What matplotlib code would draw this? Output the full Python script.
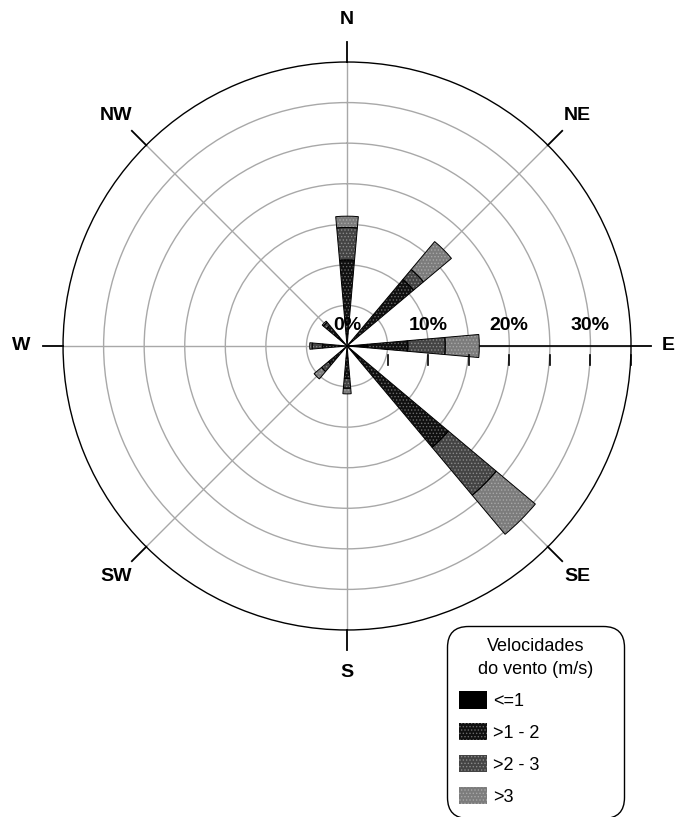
import numpy as np
import matplotlib
matplotlib.use("Agg")
import matplotlib.pyplot as plt

plt.rcParams['font.family'] = ['Liberation Sans', 'DejaVu Sans']
plt.rcParams['hatch.linewidth'] = 0.6

# wind directions and frequency (%) of each speed class
directions = ["N", "NE", "E", "SE", "S", "SW", "W", "NW"]
angles_deg = [0, 45, 90, 135, 180, 225, 270, 315]
speed_classes = ["<=1", ">1 - 2", ">2 - 3", ">3"]
freq_le1 = [1.5, 1.0, 2.5, 2.0, 1.5, 1.0, 1.0, 1.5]
freq_1_2 = [9.1, 9.7, 5.0, 14.3, 2.5, 2.0, 2.0, 1.8]
freq_2_3 = [4.0, 1.6, 4.6, 7.7, 1.2, 1.1, 1.3, 0.5]
freq_gt3 = [1.4, 4.5, 4.2, 6.3, 0.7, 1.2, 0.3, 0.2]
ring_labels = {0: "0%", 10: "10%", 20: "20%", 30: "30%"}

rmax = 35
theta = np.radians(angles_deg)
width = np.radians(10)

fig = plt.figure(figsize=(6.77, 8.17), dpi=100)
ax = fig.add_axes([0.0931, 0.2289, 0.839, 0.6952], projection='polar')
ax.set_theta_zero_location('N')
ax.set_theta_direction(-1)
ax.set_rlim(0, rmax)
ax.set_rgrids(np.arange(5, rmax, 5), labels=[])
ax.set_thetagrids(angles_deg, labels=[])
ax.grid(color='#a8a8a8', lw=1.0)
ax.spines['polar'].set_color('black')
ax.spines['polar'].set_linewidth(1.0)
ax.set_axisbelow(True)

# face colour, hatch colour, hatch pattern per speed class
styles = [("black", "black", None),
          ("#101010", "#6a6a6a", "....."),
          ("#444444", "#8a8a8a", "....."),
          ("#7c7c7c", "#a8a8a8", ".....")]

series = [freq_le1, freq_1_2, freq_2_3, freq_gt3]
bottom = np.zeros(len(directions))
handles = []
for vals, (fc, hc, hatch), lab in zip(series, styles, speed_classes):
    vals = np.array(vals)
    b = ax.bar(theta, vals, width=width, bottom=bottom, color=fc,
               edgecolor=hc, linewidth=0, hatch=hatch, label=lab, zorder=3)
    ax.bar(theta, vals, width=width, bottom=bottom, fill=False,
           edgecolor='black', linewidth=0.7, zorder=4)
    handles.append(b)
    bottom += vals

# black scale axis towards E with ticks under it
ax.plot([np.pi / 2, np.pi / 2], [0, rmax], color='black', lw=1.2, zorder=2)
for r in np.arange(5, rmax + 1, 5):
    t1 = np.pi / 2 + np.arctan2(1.1, r)
    t2 = np.pi / 2 + np.arctan2(2.4, r)
    ax.plot([t1, t2], [np.hypot(r, 1.1), np.hypot(r, 2.4)], color='black',
            lw=1.2, clip_on=False, zorder=5)

for r, txt in ring_labels.items():
    ax.annotate(txt, xy=(np.pi / 2, r), xytext=(0, 15), textcoords='offset points',
                ha='center', va='center', fontsize=14, fontweight='bold', zorder=6)

# compass ticks and labels
for a, name in zip(theta, directions):
    ax.plot([a, a], [rmax, rmax + 2.5], color='black', lw=1.3, clip_on=False)
    rlab = rmax + 4.6 if name == "E" else rmax + 5.2
    ax.text(a, rlab, name, ha='center', va='center', fontsize=14,
            fontweight='bold')

leg = fig.legend(handles=handles, labels=speed_classes,
                 title="Velocidades\ndo vento (m/s)",
                 loc='upper left', bbox_to_anchor=(0.660, 0.0, 0.262, 0.234),
                 mode='expand', borderaxespad=0, fontsize=13, title_fontsize=13,
                 handlelength=1.55, handleheight=1.1, handletextpad=0.3,
                 labelspacing=0.72, borderpad=0.7, fancybox=True,
                 edgecolor='black', framealpha=1)
leg.get_title().set_multialignment('center')
leg.get_title().set_linespacing(1.45)
leg.get_frame().set_linewidth(1.0)
leg.get_frame().set_boxstyle('round', pad=0, rounding_size=1.2)

fig.savefig("out.png", dpi=100)
